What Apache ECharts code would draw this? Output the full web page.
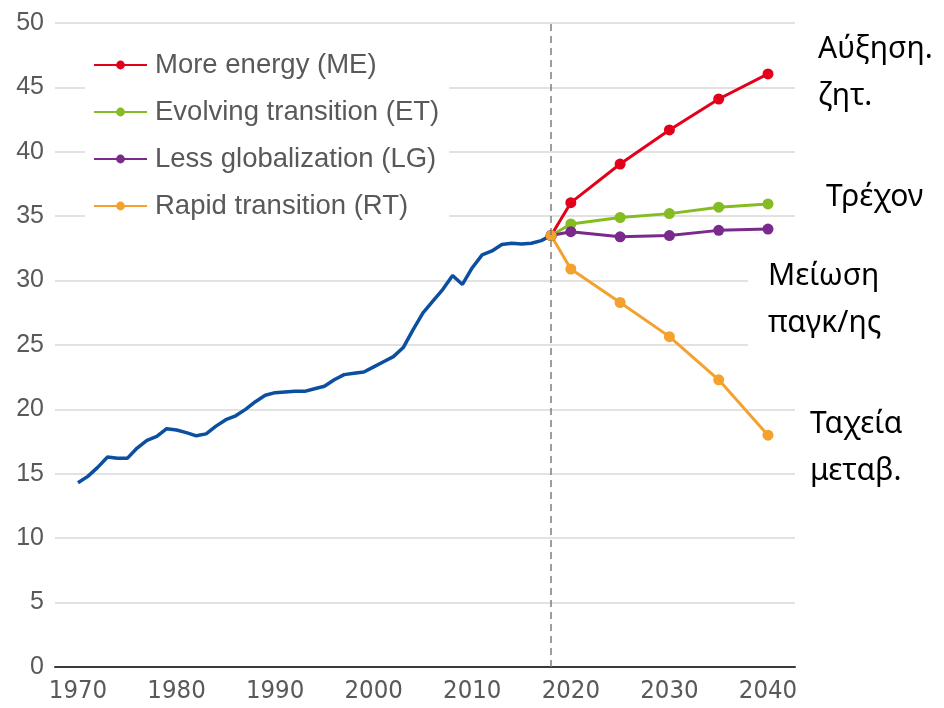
<!DOCTYPE html>
<html>
<head>
<meta charset="utf-8">
<script src="https://cdn.jsdelivr.net/npm/echarts@6/dist/echarts.min.js"></script>
<style>
html,body{margin:0;padding:0;background:#fff;}
#chart{width:944px;height:708px;}
</style>
</head>
<body>
<div id="chart"></div>
<script>
// ---- data ----
const histYears = [1970,1971,1972,1973,1974,1975,1976,1977,1978,1979,1980,1981,1982,1983,1984,1985,1986,1987,1988,1989,1990,1991,1992,1993,1994,1995,1996,1997,1998,1999,2000,2001,2002,2003,2004,2005,2006,2007,2008,2009,2010,2011,2012,2013,2014,2015,2016,2017,2018];
const histValues = [14.3,14.8,15.5,16.3,16.2,16.2,17.0,17.6,17.9,18.5,18.4,18.2,17.95,18.1,18.7,19.2,19.5,20.0,20.6,21.1,21.3,21.35,21.4,21.4,21.6,21.8,22.3,22.7,22.8,22.9,23.3,23.7,24.1,24.8,26.2,27.5,28.4,29.3,30.4,29.7,31.0,32.0,32.3,32.8,32.9,32.85,32.9,33.1,33.5];
const projYears = [2018,2020,2025,2030,2035,2040];
const meValues = [33.5,36.05,39.05,41.7,44.1,46.05];
const etValues = [33.5,34.4,34.9,35.2,35.7,35.95];
const lgValues = [33.5,33.8,33.4,33.5,33.9,34.0];
const rtValues = [33.5,30.9,28.3,25.65,22.3,18.0];
const seriesNames = ['More energy (ME)','Evolving transition (ET)','Less globalization (LG)','Rapid transition (RT)'];
const xTickLabels = [1970,1980,1990,2000,2010,2020,2030,2040];
const baseYear = 2018;
const sideLabels = [
  {lines:['Αύξηση.','ζητ.'], x:818, y:34},
  {lines:['Τρέχον'], x:826, y:182},
  {lines:['Μείωση','παγκ/ης'], x:768, y:261},
  {lines:['Ταχεία','μεταβ.'], x:810, y:409}
];

const colors = ['#e2001a','#85bc22','#7a2a8a','#f4a22d'];
const pair = (xs, ys) => xs.map((x,i)=>[x, ys[i]]);

// pick a condensed font if one is installed
function hasFont(name){
  const c = document.createElement('canvas').getContext('2d');
  const s = '1970 2040 abcdefgh';
  c.font = '40px monospace'; const a = c.measureText(s).width;
  c.font = '40px "' + name + '", monospace'; const b = c.measureText(s).width;
  return Math.abs(a-b) > 0.5;
}
let xFont = '"Liberation Sans", Arial, sans-serif', xSize = 26;
for (const f of ['Liberation Sans Narrow','Arial Narrow','DejaVu Sans Condensed','Roboto Condensed','Open Sans Condensed']) {
  if (hasFont(f)) { xFont = '"' + f + '", sans-serif'; xSize = f.indexOf('DejaVu')>=0 ? 25.5 : 29; break; }
}

const chart = echarts.init(document.getElementById('chart'), null, {renderer:'canvas'});

function projSeries(name, vals, color){
  return {
    name, type:'line', data: pair(projYears, vals),
    symbol:'circle', symbolSize:11, showSymbol:true,
    lineStyle:{color, width:3}, itemStyle:{color},
    emphasis:{disabled:true}, animation:false, z:3
  };
}

const graphics = [];
graphics.push({type:'rect', shape:{x:748, y:252, width:60, height:100}, style:{fill:'#fff'}, z:50});
sideLabels.forEach(l=>{
  l.lines.forEach((t,i)=>{
    graphics.push({type:'text', x:l.x, y:l.y + i*47, z:60,
      style:{text:t, fill:'#000', font:'30px "Noto Sans", "Open Sans", sans-serif', textVerticalAlign:'top'}});
  });
});

chart.setOption({
  animation:false,
  backgroundColor:'#fff',
  grid:{left:55, right:149, top:23, bottom:41},
  legend:{
    data: seriesNames,
    orient:'vertical', left:85, top:42,
    backgroundColor:'#fff',
    padding:[9,10,9,8],
    itemWidth:53, itemHeight:11, itemGap:19,
    textStyle:{fontFamily:'"Liberation Sans", Arial, sans-serif', fontSize:27.5, color:'#595959', lineHeight:26, padding:[0,0,0,3]},
    z:10
  },
  xAxis:{
    type:'value', min:1967.67, max:2042.74,
    splitLine:{show:false},
    axisLine:{show:true, lineStyle:{color:'#3a3a3a', width:2}},
    axisTick:{show:false},
    axisLabel:{customValues:xTickLabels, color:'#595959', fontSize:xSize, fontFamily:xFont, margin:11, formatter:v=>String(v)}
  },
  yAxis:{
    type:'value', min:0, max:50, interval:5,
    axisLine:{show:false}, axisTick:{show:false},
    splitLine:{lineStyle:{color:'#d9d9d9', width:1.5}},
    axisLabel:{color:'#595959', fontSize:25, fontFamily:'"Liberation Sans", Arial, sans-serif', margin:11}
  },
  series:[
    {
      name:'History', type:'line', data: pair(histYears, histValues),
      showSymbol:false, symbol:'none',
      lineStyle:{color:'#0b4f9e', width:3.5},
      emphasis:{disabled:true}, z:2,
      markLine:{
        silent:true, symbol:'none', label:{show:false},
        lineStyle:{color:'#7f7f7f', type:[7,5], width:1.5},
        data:[{xAxis: baseYear}]
      }
    },
    projSeries(seriesNames[0], meValues, colors[0]),
    projSeries(seriesNames[1], etValues, colors[1]),
    projSeries(seriesNames[2], lgValues, colors[2]),
    projSeries(seriesNames[3], rtValues, colors[3])
  ],
  graphic: graphics
});
</script>
</body>
</html>
